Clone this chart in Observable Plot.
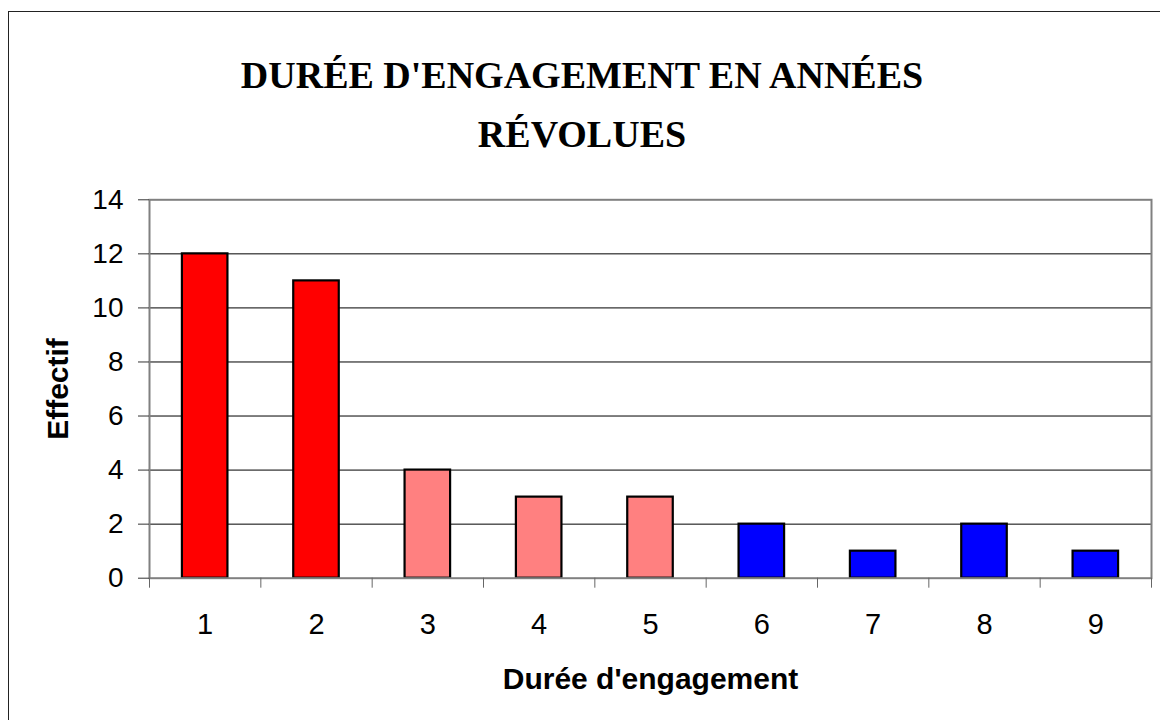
<!DOCTYPE html>
<html>
<head>
<meta charset="utf-8">
<script src="https://cdn.jsdelivr.net/npm/d3@7"></script>
<script src="https://cdn.jsdelivr.net/npm/@observablehq/plot@0.6"></script>
<style>
  html, body { margin: 0; padding: 0; overflow: hidden; background: #fff; }
  #wrap { position: relative; width: 1160px; height: 720px; overflow: hidden; }
  #frame { position: absolute; left: 8px; top: 11px; width: 1300px; height: 900px;
           border-left: 1.5px solid #222; border-top: 1.5px solid #222; box-sizing: border-box; }
  #title { position: absolute; left: 0; top: 46px; width: 1164px; text-align: center;
           font-family: "Liberation Serif", "Times New Roman", serif; font-weight: bold;
           font-size: 38px; line-height: 59px; color: #000; }
  #chart { position: absolute; left: 0; top: 175px; }
</style>
</head>
<body>
<div id="wrap">
  <div id="frame"></div>
  <div id="title">DURÉE D'ENGAGEMENT EN ANNÉES<br>RÉVOLUES</div>
  <div id="chart"></div>
</div>
<script>
const categories = [1, 2, 3, 4, 5, 6, 7, 8, 9];
const values = [12, 11, 4, 3, 3, 2, 1, 2, 1];
const groups = ["a", "a", "b", "b", "b", "c", "c", "c", "c"];
const groupColors = ["#FF0000", "#FF8080", "#0000FF"];
const yTicks = [0, 2, 4, 6, 8, 10, 12, 14];
const gridValues = [2, 4, 6, 8, 10, 12];
const boundaries = [0.5, 1.5, 2.5, 3.5, 4.5, 5.5, 6.5, 7.5, 8.5, 9.5];
const xTitle = "Durée d'engagement";
const yTitle = "Effectif";

const data = categories.map((k, i) => ({k, v: values[i], g: groups[i]}));

const chart = Plot.plot({
  width: 1160,
  height: 545,
  marginTop: 24.3,
  marginBottom: 142.3,
  marginLeft: 149,
  marginRight: 9,
  style: {fontFamily: "'Liberation Sans', Arial, sans-serif", background: "transparent", color: "#000"},
  x: {type: "linear", domain: [0.5, 9.5]},
  y: {domain: [0, 14]},
  color: {domain: ["a", "b", "c"], range: groupColors},
  marks: [
    Plot.ruleY(gridValues, {stroke: "#000", strokeWidth: 1}),
    Plot.rectY(data, {
      x1: d => d.k - 0.5, x2: d => d.k + 0.5, y1: 0, y2: "v",
      fill: "g", stroke: "#000", strokeWidth: 2.2,
      insetLeft: 32.9, insetRight: 32.9
    }),
    Plot.frame({stroke: "#808080", strokeWidth: 2}),
    Plot.axisY({ticks: yTicks, tickSize: 11, tickPadding: 15, fontSize: 28, label: null, stroke: "#333", fill: "#000"}),
    Plot.axisX({ticks: categories, tickSize: 0, tickPadding: 35, fontSize: 29, label: null, fill: "#000", tickFormat: d => String(d)}),
    Plot.axisX({ticks: boundaries, tickSize: 10, tickFormat: () => "", label: null, stroke: "#666"}),
    Plot.text([xTitle], {frameAnchor: "bottom", textAnchor: "middle", dy: 110.3, lineAnchor: "bottom", fontSize: 30, fontWeight: "bold", fill: "#000"}),
    Plot.text([yTitle], {frameAnchor: "left", textAnchor: "middle", dx: -82, rotate: -90, lineAnchor: "bottom", fontSize: 30, fontWeight: "bold", fill: "#000"})
  ]
});
document.getElementById("chart").appendChild(chart);
</script>
</body>
</html>
